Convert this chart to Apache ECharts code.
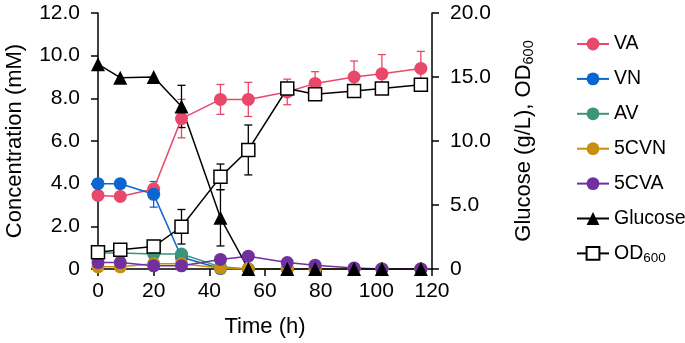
<!DOCTYPE html>
<html>
<head>
<meta charset="utf-8">
<script src="https://cdn.jsdelivr.net/npm/echarts@6/dist/echarts.min.js"></script>
<style>
html,body{margin:0;padding:0;background:#fff;}
#chart{width:685px;height:343px;}
</style>
</head>
<body>
<div id="chart"></div>
<script>
var times = [0, 8, 20, 30, 44, 54, 68, 78, 92, 102, 116];
var vaVals = [3.45, 3.4, 3.75, 7.05, 7.95, 7.95, 8.3, 8.7, 9.0, 9.15, 9.4];
var vaErr = [0, 0, 0.15, 0.9, 0.7, 0.8, 0.6, 0.55, 0.75, 0.9, 0.8];
var vnVals = [4.0, 4.0, 3.5, 0.55, 0.02, 0, 0, 0, 0, 0, 0];
var vnErr = [0.1, 0.15, 0.6, 0, 0, 0, 0, 0, 0, 0, 0];
var avVals = [0.75, 0.75, 0.7, 0.7, 0.1, 0, 0, 0, 0, 0, 0];
var cvnVals = [0.1, 0.1, 0.25, 0.25, 0.05, 0, 0, 0, 0, 0, 0];
var cvaVals = [0.3, 0.3, 0.15, 0.15, 0.45, 0.6, 0.3, 0.18, 0.05, 0, 0];
var glucoseVals = [16.0, 14.95, 15.0, 12.7, 4.0, 0, 0, 0, 0, 0, 0];
var glucoseErr = [0, 0, 0, 1.65, 2.2, 0, 0, 0, 0, 0, 0];
var odVals = [1.3, 1.5, 1.75, 3.3, 7.2, 9.3, 14.1, 13.65, 13.9, 14.1, 14.4];
var odErr = [0, 0, 0, 1.35, 1.0, 1.95, 0, 0, 0, 0, 0];

var FONT = 'Liberation Sans';

function pairs(vals) {
  var out = [];
  for (var i = 0; i < times.length; i++) out.push([times[i], vals[i]]);
  return out;
}
function errData(vals, errs) {
  var out = [];
  for (var i = 0; i < times.length; i++) {
    if (errs[i] > 0) out.push([times[i], vals[i] - errs[i], vals[i] + errs[i]]);
  }
  return out;
}
function errSeries(vals, errs, color, yIdx) {
  return {
    type: 'custom',
    yAxisIndex: yIdx,
    z: 1,
    silent: true,
    data: errData(vals, errs),
    renderItem: function (params, api) {
      var lo = api.coord([api.value(0), api.value(1)]);
      var hi = api.coord([api.value(0), api.value(2)]);
      var cap = 4;
      var st = {stroke: color, lineWidth: 1.3};
      return {
        type: 'group',
        children: [
          {type: 'line', shape: {x1: lo[0], y1: lo[1], x2: hi[0], y2: hi[1]}, style: st},
          {type: 'line', shape: {x1: lo[0] - cap, y1: lo[1], x2: lo[0] + cap, y2: lo[1]}, style: st},
          {type: 'line', shape: {x1: hi[0] - cap, y1: hi[1], x2: hi[0] + cap, y2: hi[1]}, style: st}
        ]
      };
    }
  };
}
function lineSeries(name, vals, color, symbol, yIdx, fill) {
  return {
    name: name,
    type: 'line',
    yAxisIndex: yIdx,
    data: pairs(vals),
    symbol: symbol,
    symbolSize: symbol === 'triangle' ? 14 : 13,
    clip: false,
    z: 3,
    lineStyle: {color: color, width: 1.5},
    itemStyle: {color: fill || color, borderColor: color, borderWidth: fill ? 1.5 : 0}
  };
}

var chart = echarts.init(document.getElementById('chart'));
var option = {
  animation: false,
  backgroundColor: '#fff',
  textStyle: {fontFamily: FONT, color: '#000'},
  grid: {left: 98, right: 253, top: 13, bottom: 74},
  legend: {
    orient: 'vertical',
    left: 576,
    top: 34,
    padding: 0,
    itemWidth: 32,
    itemHeight: 16,
    itemGap: 14.9,
    textStyle: {fontFamily: FONT, fontSize: 19.5, color: '#000',
      rich: {sub: {fontSize: 13.5, verticalAlign: 'bottom', padding: [10, 0, 0, 0], fontFamily: FONT}}},
    formatter: function (n) { return n === 'OD600' ? 'OD{sub|600}' : n; },
    data: ['VA', 'VN', 'AV', '5CVN', '5CVA', 'Glucose', 'OD600']
  },
  xAxis: {
    type: 'value', min: 0, max: 120, interval: 20,
    name: 'Time (h)', nameLocation: 'middle', nameGap: 47,
    nameTextStyle: {fontSize: 22, color: '#000', fontFamily: FONT},
    axisLine: {lineStyle: {color: '#000', width: 1.5}},
    axisTick: {length: 7, lineStyle: {color: '#000', width: 1.5}},
    axisLabel: {fontSize: 21, color: '#000', margin: 12, fontFamily: FONT},
    splitLine: {show: false}
  },
  yAxis: [{
    type: 'value', min: 0, max: 12, interval: 2,
    name: 'Concentration (mM)', nameLocation: 'middle', nameGap: 72,
    nameTextStyle: {fontSize: 22, color: '#000', fontFamily: FONT},
    axisLine: {show: true, lineStyle: {color: '#000', width: 1.5}},
    axisTick: {show: true, length: 7, lineStyle: {color: '#000', width: 1.5}},
    axisLabel: {fontSize: 21, color: '#000', margin: 18, fontFamily: FONT,
      formatter: function (v) { return v === 0 ? '0' : v.toFixed(1); }},
    splitLine: {show: false}
  }, {
    type: 'value', min: 0, max: 20, interval: 5, position: 'right',
    name: 'Glucose (g/L), OD{sub|600}', nameLocation: 'middle', nameGap: 79,
    nameTextStyle: {fontSize: 22, color: '#000', fontFamily: FONT,
      rich: {sub: {fontSize: 14.5, verticalAlign: 'bottom', padding: [10, 0, 0, 0], fontFamily: FONT}}},
    axisLine: {show: true, lineStyle: {color: '#000', width: 1.5}},
    axisTick: {show: true, length: 7, lineStyle: {color: '#000', width: 1.5}},
    axisLabel: {fontSize: 21, color: '#000', margin: 18, fontFamily: FONT,
      formatter: function (v) { return v === 0 ? '0' : v.toFixed(1); }},
    splitLine: {show: false}
  }],
  series: [
    errSeries(vaVals, vaErr, '#e8486a', 0),
    errSeries(vnVals, vnErr, '#0b66d0', 0),
    errSeries(glucoseVals, glucoseErr, '#000', 1),
    errSeries(odVals, odErr, '#000', 1),
    lineSeries('VA', vaVals, '#e8486a', 'circle', 0),
    lineSeries('VN', vnVals, '#0b66d0', 'circle', 0),
    lineSeries('AV', avVals, '#3a957a', 'circle', 0),
    lineSeries('5CVN', cvnVals, '#c8900a', 'circle', 0),
    lineSeries('5CVA', cvaVals, '#7030a0', 'circle', 0),
    lineSeries('Glucose', glucoseVals, '#000', 'triangle', 1),
    lineSeries('OD600', odVals, '#000', 'rect', 1, '#fff')
  ]
};
chart.setOption(option);
</script>
</body>
</html>
